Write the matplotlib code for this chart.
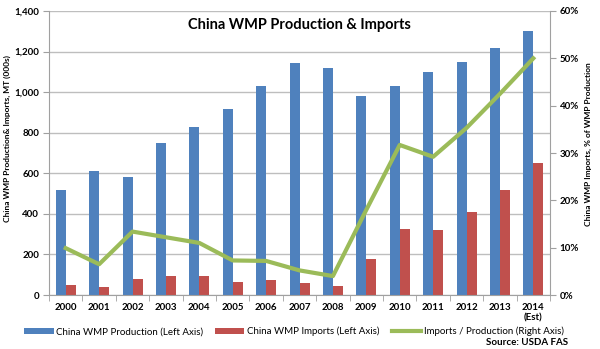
import matplotlib.pyplot as plt
from matplotlib.ticker import FuncFormatter, PercentFormatter
import numpy as np

plt.rcParams['font.family'] = ['Lato', 'DejaVu Sans']

years = ['2000', '2001', '2002', '2003', '2004', '2005', '2006', '2007',
         '2008', '2009', '2010', '2011', '2012', '2013', '2014\n(Est)']
production = [520, 610, 580, 750, 830, 915, 1030, 1145, 1120, 980, 1030, 1100, 1150, 1220, 1300]
imports = [50, 40, 78, 92, 92, 65, 73, 58, 45, 178, 327, 318, 410, 520, 650]
ratio = [9.9, 6.5, 13.4, 12.2, 11.0, 7.3, 7.2, 5.2, 4.0, 18.0, 31.7, 29.2, 35.3, 42.5, 50.0]

blue = '#4F81BD'
red = '#C0504D'
green = '#9BBB59'
grey = '#A0A0A0'

fig = plt.figure(figsize=(6, 3.49), dpi=100)
ax = fig.add_axes([0.0817, 0.1547, 0.835, 0.8138])
x = np.arange(len(years))
w = 0.3

b1 = ax.bar(x - w / 2, production, w, color=blue, label='China WMP Production (Left Axis)', zorder=2)
b2 = ax.bar(x + w / 2, imports, w, color=red, label='China WMP Imports (Left Axis)', zorder=2)

ax.set_ylim(0, 1400)
ax.set_yticks(range(0, 1401, 200))
ax.yaxis.set_major_formatter(FuncFormatter(lambda v, p: '{:,.0f}'.format(v)))
ax.set_xlim(-0.5, len(years) - 0.5)
ax.set_xticks(x)
ax.set_xticklabels(years)
ax.set_xticks(np.arange(-0.5, len(years), 1), minor=True)
ax.tick_params(axis='x', which='major', length=0, pad=6)
ax.tick_params(axis='x', which='minor', length=4, color=grey)
ax.tick_params(axis='y', length=4, color=grey, pad=3)
ax.grid(axis='y', color='#BEBEBE', linewidth=1, zorder=0)
ax.set_axisbelow(True)
for s in ['top', 'right']:
    ax.spines[s].set_visible(False)
ax.spines['left'].set_color(grey)
ax.spines['bottom'].set_color(grey)
ax.set_ylabel('China WMP Production& Imports, MT (000s)', fontsize=6, fontweight='bold', labelpad=4)
ax.yaxis.set_label_coords(-0.075, 0.55)
for lab in ax.get_xticklabels() + ax.get_yticklabels():
    lab.set_fontsize(7)
    lab.set_fontweight('bold')

ax2 = ax.twinx()
l1, = ax2.plot(x, ratio, color=green, linewidth=3, label='Imports / Production (Right Axis)', zorder=3)
ax2.set_ylim(0, 60)
ax2.set_yticks(range(0, 61, 10))
ax2.yaxis.set_major_formatter(PercentFormatter(decimals=0))
ax2.tick_params(axis='y', length=4, color=grey, pad=3)
for s in ['top', 'left', 'bottom']:
    ax2.spines[s].set_visible(False)
ax2.spines['right'].set_color(grey)
ax2.set_ylabel('China WMP Imports, % of WMP Production', fontsize=6, fontweight='bold', labelpad=6)
ax2.yaxis.set_label_coords(1.07, 0.53)
for lab in ax2.get_yticklabels():
    lab.set_fontsize(7)
    lab.set_fontweight('bold')

ax.text(0.5, 0.95, 'China WMP Production & Imports', transform=ax.transAxes,
        ha='center', va='center', fontsize=10.5, fontweight='bold')

fig.legend(handles=[b1, b2, l1], loc='center', bbox_to_anchor=(0.49, 0.05), ncol=3,
           frameon=False, fontsize=7, handlelength=3.0, handleheight=0.6,
           columnspacing=1.2, handletextpad=0.3)
fig.text(0.947, 0.018, 'Source: USDA FAS', ha='right', va='center', fontsize=7, fontweight='bold')

fig.savefig('out.png', dpi=100)
